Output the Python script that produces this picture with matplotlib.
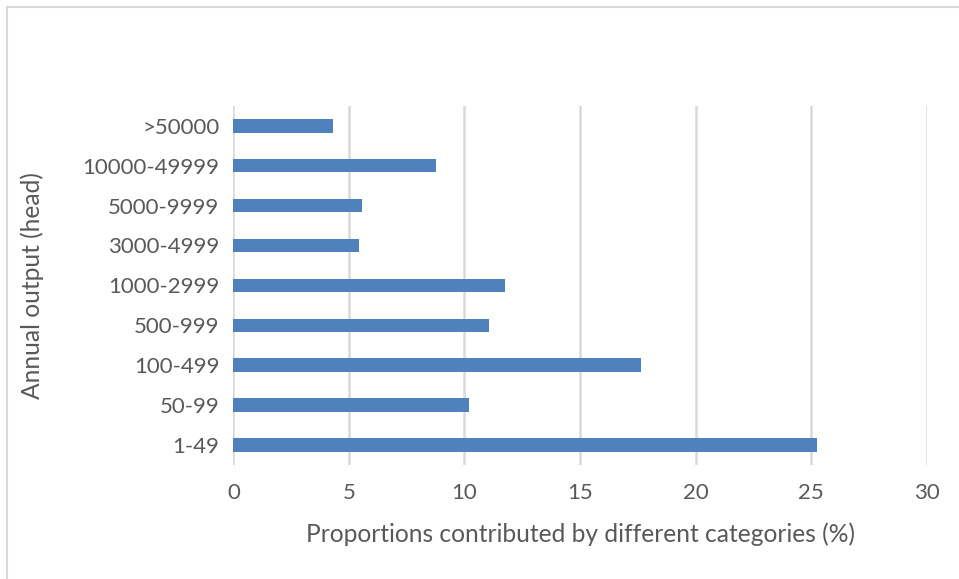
import matplotlib.pyplot as plt
from matplotlib.lines import Line2D

# Share of output by farm size class
categories = ['1-49', '50-99', '100-499', '500-999', '1000-2999',
              '3000-4999', '5000-9999', '10000-49999', '>50000']
proportions = [25.26, 10.19, 17.65, 11.07, 11.76, 5.44, 5.56, 8.79, 4.32]

plt.rcParams['font.family'] = ['Lato', 'DejaVu Sans']
text_color = '#595959'

fig = plt.figure(figsize=(9.59, 5.79), dpi=100)
ax = fig.add_axes([0.2433, 0.1969, 0.7230, 0.6204])

ax.barh(range(len(categories)), proportions, height=0.34,
        color='#4f81bd', zorder=3)

ax.set_xlim(0, 30)
ax.set_ylim(-0.5, len(categories) - 0.5)
ax.set_xticks(range(0, 31, 5))
ax.set_yticks(range(len(categories)))
ax.set_yticklabels(categories)

ax.grid(axis='x', color='#d9d9d9', linewidth=1.8, zorder=0)
for s in ax.spines.values():
    s.set_visible(False)
ax.tick_params(axis='both', length=0, labelsize=16, colors=text_color)
ax.tick_params(axis='x', pad=13)
ax.tick_params(axis='y', pad=10)

ax.set_xlabel('Proportions contributed by different categories (%)',
              fontsize=17.7, color=text_color, labelpad=14)
ax.set_ylabel('Annual output (head)', fontsize=17.7, color=text_color,
              labelpad=28)

# frame edges on the left and top of the chart
fig.lines.append(Line2D([7 / 959, 7 / 959], [0, 1 - 7 / 579],
                        transform=fig.transFigure, color='#d9d9d9', lw=1.5))
fig.lines.append(Line2D([7 / 959, 1], [1 - 7 / 579, 1 - 7 / 579],
                        transform=fig.transFigure, color='#d9d9d9', lw=1.5))

fig.savefig('out.png', dpi=100)
